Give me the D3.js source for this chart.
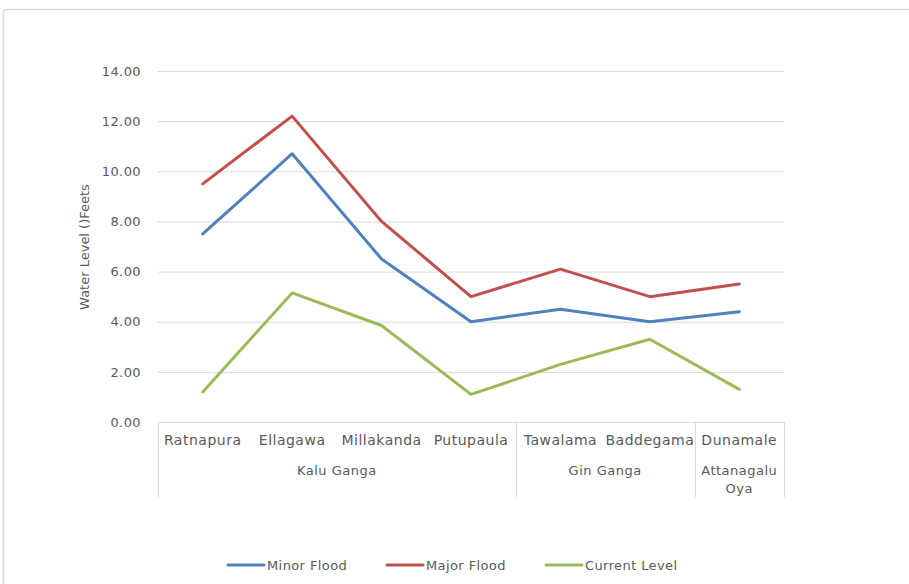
<!DOCTYPE html>
<html>
<head>
<meta charset="utf-8">
<script src="https://cdn.jsdelivr.net/npm/d3@7"></script>
<style>
  body { margin: 0; background: #fff; }
  text { font-family: "DejaVu Sans", sans-serif; fill: #595959; }
</style>
</head>
<body>
<svg id="chart" width="909" height="584"></svg>
<script>
const stations = ["Ratnapura", "Ellagawa", "Millakanda", "Putupaula", "Tawalama", "Baddegama", "Dunamale"];
const rivers = [
  { name: ["Kalu Ganga"], from: 0, to: 3 },
  { name: ["Gin Ganga"], from: 4, to: 5 },
  { name: ["Attanagalu", "Oya"], from: 6, to: 6 }
];
const minorFlood = [7.5, 10.7, 6.5, 4.0, 4.5, 4.0, 4.4];
const majorFlood = [9.5, 12.2, 8.0, 5.0, 6.1, 5.0, 5.5];
const currentLevel = [1.2, 5.15, 3.85, 1.1, 2.3, 3.3, 1.3];
const yTicks = [0, 2, 4, 6, 8, 10, 12, 14];

const series = [
  { name: "Minor Flood", values: minorFlood, color: "#4F81BD" },
  { name: "Major Flood", values: majorFlood, color: "#C0504D" },
  { name: "Current Level", values: currentLevel, color: "#9BBB59" }
];

const svg = d3.select("#chart");
const plotLeft = 158, plotRight = 784, plotTop = 71, plotBottom = 422;

// chart frame
svg.append("rect")
  .attr("x", 3.5).attr("y", 9.5)
  .attr("width", 1000).attr("height", 700)
  .attr("rx", 3)
  .attr("fill", "none")
  .attr("stroke", "#d9d9d9")
  .attr("stroke-width", 1.5);

const x = d3.scaleBand().domain(stations).range([plotLeft, plotRight]);
const y = d3.scaleLinear().domain([0, 14]).range([plotBottom, plotTop]);

// gridlines + y labels
const yAxis = d3.axisLeft(y)
  .tickValues(yTicks)
  .tickFormat(d3.format(".2f"))
  .tickSize(-(plotRight - plotLeft))
  .tickPadding(17);
const gy = svg.append("g").attr("transform", `translate(${plotLeft},0)`).call(yAxis);
gy.select(".domain").remove();
gy.selectAll(".tick line").attr("stroke", "#d9d9d9");
gy.selectAll(".tick text")
  .style("font-size", "13px")
  .style("letter-spacing", "0.4px")
  .attr("fill", "#595959");

// category axis (two levels)
const axisBottom = 497;
svg.append("line")
  .attr("x1", plotLeft).attr("x2", plotRight)
  .attr("y1", plotBottom + 0.5).attr("y2", plotBottom + 0.5)
  .attr("stroke", "#d9d9d9");

const bounds = [0, ...rivers.map(r => r.to + 1)];
bounds.forEach(i => {
  const xx = i < stations.length ? x(stations[i]) : plotRight;
  svg.append("line")
    .attr("x1", Math.round(xx) + 0.5).attr("x2", Math.round(xx) + 0.5)
    .attr("y1", plotBottom).attr("y2", axisBottom)
    .attr("stroke", "#d9d9d9");
});

svg.append("g").selectAll("text")
  .data(stations)
  .join("text")
  .attr("x", d => x(d) + x.bandwidth() / 2)
  .attr("y", 445)
  .attr("text-anchor", "middle")
  .style("font-size", "14px")
  .style("letter-spacing", "0.5px")
  .text(d => d);

rivers.forEach(r => {
  const cx = (x(stations[r.from]) + x(stations[r.to]) + x.bandwidth()) / 2;
  const t = svg.append("text")
    .attr("x", cx).attr("y", 475)
    .attr("text-anchor", "middle")
    .style("font-size", "13px")
    .style("letter-spacing", "0.5px");
  r.name.forEach((s, i) => {
    t.append("tspan").attr("x", cx).attr("dy", i ? 18 : 0).text(s);
  });
});

// y title
svg.append("text")
  .attr("transform", "translate(89,247) rotate(-90)")
  .attr("text-anchor", "middle")
  .style("font-size", "13px")
  .text("Water Level ()Feets");

// lines
const line = d3.line()
  .x((d, i) => x(stations[i]) + x.bandwidth() / 2)
  .y(d => y(d));

svg.append("g").selectAll("path")
  .data(series)
  .join("path")
  .attr("d", d => line(d.values))
  .attr("fill", "none")
  .attr("stroke", d => d.color)
  .attr("stroke-width", 3)
  .attr("stroke-linejoin", "round")
  .attr("stroke-linecap", "round");

// legend
const legendX = [228, 387, 546];
const lg = svg.append("g").selectAll("g")
  .data(series)
  .join("g")
  .attr("transform", (d, i) => `translate(${legendX[i]},565)`);
lg.append("line")
  .attr("x1", 0).attr("x2", 36)
  .attr("stroke", d => d.color)
  .attr("stroke-width", 3)
  .attr("stroke-linecap", "round");
lg.append("text")
  .attr("x", 39).attr("y", 5)
  .style("font-size", "13px")
  .style("letter-spacing", "0.4px")
  .text(d => d.name);
</script>
</body>
</html>
